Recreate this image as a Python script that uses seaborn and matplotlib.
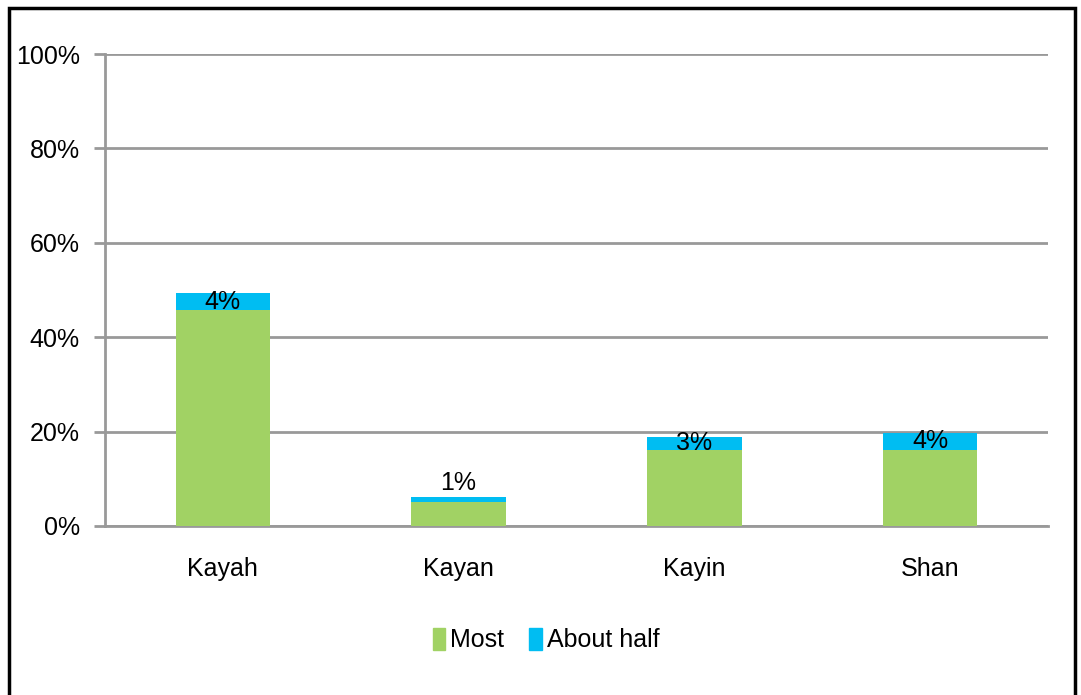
import seaborn as sns
import matplotlib.pyplot as plt
import matplotlib.patches as mpatches
import pandas as pd

regions = ['Kayah', 'Kayan', 'Kayin', 'Shan']
most = [45.8, 5.1, 16.1, 16.1]
about_half = [3.5, 1.0, 2.8, 3.6]
half_labels = ['4%', '1%', '3%', '4%']

GREEN = '#a1d264'
BLUE = '#00bdf2'
GREY = '#999999'

sns.set_style('white')
plt.rcParams['font.family'] = ['Liberation Sans', 'DejaVu Sans']
plt.rcParams['text.color'] = 'black'
plt.rcParams['xtick.labelcolor'] = 'black'
plt.rcParams['ytick.labelcolor'] = 'black'

df = pd.DataFrame({'region': regions, 'most': most, 'half': about_half})
df['total'] = df['most'] + df['half']

fig = plt.figure(figsize=(10.81, 6.95), dpi=100)
ax = fig.add_axes([0.0971, 0.2432, 0.8724, 0.6791])

sns.barplot(data=df, x='region', y='total', color=BLUE, width=0.4,
            saturation=1, linewidth=0, ax=ax, zorder=3)
sns.barplot(data=df, x='region', y='most', color=GREEN, width=0.4,
            saturation=1, linewidth=0, ax=ax, zorder=3)

# labels for the "about half" segment
for i, row in df.iterrows():
    if row['half'] < 2:
        y = row['total'] + 0.4
        va = 'bottom'
    else:
        y = row['most'] + row['half'] / 2
        va = 'center'
    ax.text(i, y, half_labels[i], ha='center', va=va, fontsize=18, zorder=4)

ax.set_xlim(-0.5, 3.5)
ax.set_ylim(0, 100)
ax.set_yticks(range(0, 101, 20))
ax.set_yticklabels([f'{v}%' for v in range(0, 101, 20)], fontsize=18)
ax.yaxis.grid(True, color=GREY, lw=2, zorder=0)
ax.set_xlabel('')
ax.set_ylabel('')
ax.tick_params(axis='x', which='major', length=0, labelsize=18, pad=22)
ax.set_xticks([-0.5, 0.5, 1.5, 2.5, 3.5], minor=True)
ax.tick_params(axis='x', which='minor', length=8, width=2, color=GREY, direction='out')
ax.tick_params(axis='y', length=8, width=2, color=GREY, direction='out', left=True, pad=10)
for s in ['top', 'right']:
    ax.spines[s].set_visible(False)
for s in ['left', 'bottom']:
    ax.spines[s].set_color(GREY)
    ax.spines[s].set_linewidth(2)

handles = [mpatches.Patch(color=GREEN, label='Most'),
           mpatches.Patch(color=BLUE, label='About half')]
fig.legend(handles=handles, loc='center', bbox_to_anchor=(0.505, 0.079), ncol=2,
           frameon=False, fontsize=18, handlelength=0.5, handleheight=1.0,
           handletextpad=0.2, columnspacing=1.0)

fig.patches.append(mpatches.Rectangle((0.008, -0.02), 0.986, 1.008, transform=fig.transFigure,
                                      fill=False, edgecolor='black', lw=2.5))

fig.savefig('out.png', dpi=100)
